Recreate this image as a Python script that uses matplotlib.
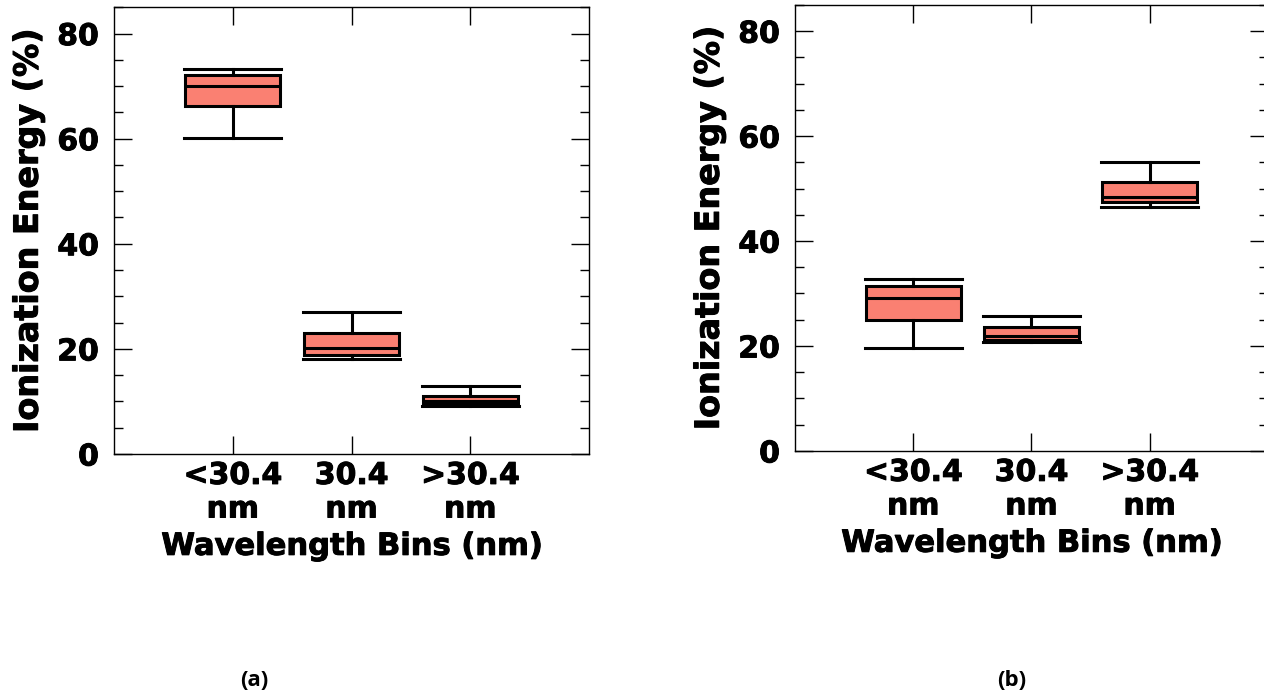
import matplotlib
matplotlib.use('Agg')
import matplotlib.pyplot as plt
import matplotlib.patheffects as pe
from matplotlib.ticker import MultipleLocator

# valores (Ionization Energy, %)
categorias = ['<30.4\nnm', '30.4\nnm', '>30.4\nnm']

a_min = [60.2, 18.0, 9.1]
a_q1 = [66.2, 18.8, 9.5]
a_med = [70.1, 20.1, 10.1]
a_q3 = [72.2, 23.0, 11.0]
a_max = [73.3, 27.0, 13.0]

b_min = [19.6, 20.8, 46.5]
b_q1 = [24.9, 21.1, 47.5]
b_med = [29.1, 21.9, 48.4]
b_q3 = [31.4, 23.6, 51.3]
b_max = [32.8, 25.7, 55.0]

COR_CAIXA = '#FA8072'
LW = 2.2
FS = 21.5
# leve contorno para deixar o texto mais "pesado", como no original
GROSSO = [pe.withStroke(linewidth=0.7, foreground='black')]


def montar_stats(mins, q1s, meds, q3s, maxs):
    stats = []
    for lo, q1, me, q3, hi in zip(mins, q1s, meds, q3s, maxs):
        stats.append({'whislo': lo, 'q1': q1, 'med': me, 'q3': q3,
                      'whishi': hi, 'fliers': []})
    return stats


def desenhar_painel(ax, stats):
    props = dict(color='black', linewidth=LW)
    ax.bxp(stats, positions=[1, 2, 3], widths=0.8, capwidths=0.82,
           patch_artist=True, showfliers=False,
           boxprops=dict(facecolor=COR_CAIXA, edgecolor='black', linewidth=LW),
           medianprops=props, whiskerprops=props, capprops=props)
    ax.set_xlim(0, 4)
    ax.set_ylim(0, 85)
    ax.set_xticks([1, 2, 3])
    ax.set_xticklabels(categorias)
    ax.yaxis.set_major_locator(MultipleLocator(20))
    ax.yaxis.set_minor_locator(MultipleLocator(5))
    ax.tick_params(axis='both', which='both', direction='in',
                   top=True, right=True, width=1.0)
    ax.tick_params(axis='both', which='major', length=13, labelsize=FS)
    ax.tick_params(axis='y', which='major', pad=11)
    ax.tick_params(axis='x', which='major', pad=5)
    ax.tick_params(axis='x', which='minor', bottom=False, top=False)
    ax.tick_params(axis='y', which='minor', length=6.5)
    for lbl in ax.get_xticklabels() + ax.get_yticklabels():
        lbl.set_fontweight('bold')
        lbl.set_path_effects(GROSSO)
    for sp in ax.spines.values():
        sp.set_linewidth(1.0)
    xl = ax.set_xlabel('Wavelength Bins (nm)', fontsize=22, fontweight='bold', labelpad=6)
    yl = ax.set_ylabel('Ionization Energy (%)', fontsize=24, fontweight='bold', labelpad=9)
    xl.set_path_effects(GROSSO)
    yl.set_path_effects(GROSSO)


fig = plt.figure(figsize=(12.64, 6.98), dpi=100)
ax_a = fig.add_axes([0.0902, 0.3496, 0.3758, 0.640])
ax_b = fig.add_axes([0.629, 0.354, 0.374, 0.639])

desenhar_painel(ax_a, montar_stats(a_min, a_q1, a_med, a_q3, a_max))
desenhar_painel(ax_b, montar_stats(b_min, b_q1, b_med, b_q3, b_max))

fig.text(254 / 1264, 1 - 680 / 698, '(a)', ha='center', va='center',
         fontsize=16, fontweight='bold', family='Open Sans')
fig.text(1012 / 1264, 1 - 680 / 698, '(b)', ha='center', va='center',
         fontsize=16, fontweight='bold', family='Open Sans')

fig.savefig('out.png', dpi=100)
plt.close(fig)
